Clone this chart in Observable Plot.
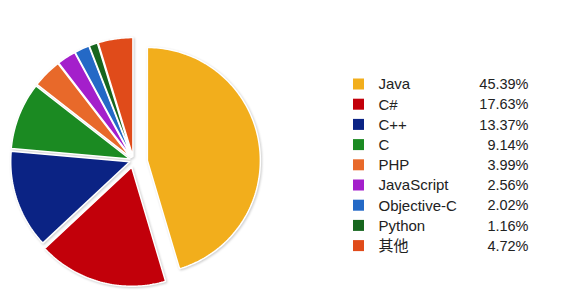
<!DOCTYPE html>
<html>
<head>
<meta charset="utf-8">
<script src="https://cdn.jsdelivr.net/npm/d3@7"></script>
<script src="https://cdn.jsdelivr.net/npm/@observablehq/plot@0.6"></script>
<style>
  html, body { margin: 0; padding: 0; background: #fff; }
  #chart { width: 588px; height: 295px; }
  .slices { filter: drop-shadow(1.5px 1.5px 1px rgba(0,0,0,0.2)); }
</style>
</head>
<body>
<div id="chart"></div>
<script>
// ---- data ----
const languages = ["Java", "C#", "C++", "C", "PHP", "JavaScript", "Objective-C", "Python", "其他"];
const shares = [45.39, 17.63, 13.37, 9.14, 3.99, 2.56, 2.02, 1.16, 4.72];
const colors = ["#F2AE1C", "#C2000A", "#0B2384", "#1B8A22", "#E8692A", "#A41FCB", "#2469C6", "#17661E", "#E04B1A"];

// ---- layout ----
const W = 588, H = 295;
const cx = 133, cy = 160, R = 119;
const legendX = 353, legendTop = 84, legendStep = 20.2;

const arcs = d3.pie().sort(null).value(d => d)(shares);
const slicePts = [];
arcs.forEach((a, i) => {
  const mid = (a.startAngle + a.endAngle) / 2;
  const off = i === 0 ? 14 : (i === 1 ? 7 : 4);
  const r = i === 0 ? 113 : R;
  const ox = cx + off * Math.sin(mid), oy = cy - off * Math.cos(mid) + (i === 0 ? 2 : 0);
  slicePts.push({lang: languages[i], x: ox, y: oy});
  const n = Math.max(4, Math.ceil((a.endAngle - a.startAngle) / 0.02));
  for (let k = 0; k <= n; k++) {
    const t = a.startAngle + (a.endAngle - a.startAngle) * k / n;
    slicePts.push({lang: languages[i], x: ox + r * Math.sin(t), y: oy - r * Math.cos(t)});
  }
  slicePts.push({lang: languages[i], x: ox, y: oy});
});

const legend = languages.map((lang, i) => ({
  lang, share: shares[i], y: legendTop + i * legendStep
}));

const chart = Plot.plot({
  width: W, height: H,
  margin: 0,
  x: {domain: [0, W], range: [0, W], axis: null},
  y: {domain: [0, H], range: [0, H], axis: null},
  color: {domain: languages, range: colors},
  style: {fontFamily: "'Liberation Sans', Arial, 'Noto Sans CJK SC', sans-serif", background: "#fff"},
  marks: [
    Plot.line(slicePts, {x: "x", y: "y", z: "lang", fill: "lang", stroke: "#fff", strokeWidth: 1.5, strokeLinejoin: "miter", curve: "linear", className: "slices"}),
    Plot.rect(legend, {x1: legendX, x2: legendX + 11, y1: d => d.y - 5.5, y2: d => d.y + 5.5, fill: "lang"}),
    Plot.text(legend, {x: legendX + 25, y: "y", text: "lang", textAnchor: "start", fontSize: 15, fill: "#222"}),
    Plot.text(legend, {x: 528, y: "y", text: d => d.share.toFixed(2) + "%", textAnchor: "end", fontSize: 14.5, fill: "#222"})
  ]
});
document.getElementById("chart").appendChild(chart);
</script>
</body>
</html>
